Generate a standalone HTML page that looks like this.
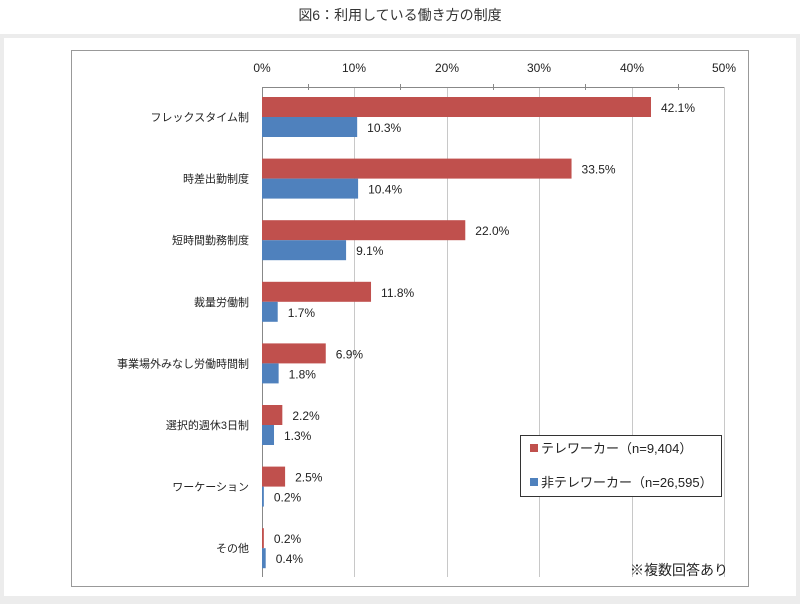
<!DOCTYPE html>
<html><head><meta charset="utf-8"><style>
body{margin:0;width:800px;height:604px;background:#fff;font-family:"Liberation Sans","Noto Sans CJK JP",sans-serif;position:relative;overflow:hidden}
.bg{position:absolute;left:0;top:34px;width:800px;height:570px;background:#ececec}
.panel{position:absolute;left:4px;top:38px;width:792px;height:558px;background:#fff}
.title{position:absolute;left:0;width:800px;top:5px;text-align:center;font-size:14px;color:#333}
</style></head><body>
<div class="title">図6：利用している働き方の制度</div>
<div class="bg"></div><div class="panel"></div>
<svg style="position:absolute;left:0;top:0" width="800" height="604" font-family="Liberation Sans, Noto Sans CJK JP, sans-serif">
<rect x="71.5" y="50.5" width="677" height="536" fill="#fff" stroke="#999"/>
<g stroke="#c8c8c8" stroke-width="1">
<line x1="354.5" y1="87" x2="354.5" y2="577"/><line x1="447.5" y1="87" x2="447.5" y2="577"/>
<line x1="539.5" y1="87" x2="539.5" y2="577"/><line x1="632.5" y1="87" x2="632.5" y2="577"/>
<line x1="724.5" y1="87" x2="724.5" y2="577"/>
</g>
<g stroke="#888"><line x1="262.5" y1="87" x2="262.5" y2="577"/><line x1="262" y1="87.5" x2="724" y2="87.5"/>
<line x1="308.5" y1="84" x2="308.5" y2="90"/><line x1="400.5" y1="84" x2="400.5" y2="90"/><line x1="493.5" y1="84" x2="493.5" y2="90"/><line x1="585.5" y1="84" x2="585.5" y2="90"/><line x1="678.5" y1="84" x2="678.5" y2="90"/></g>
<g font-size="12" fill="#222" text-anchor="middle">
<text x="262" y="72">0%</text><text x="354" y="72">10%</text><text x="447" y="72">20%</text><text x="539" y="72">30%</text><text x="632" y="72">40%</text><text x="724" y="72">50%</text>
</g>
<g id="bars"></g>
<rect x="520.5" y="435.5" width="201" height="61" fill="#fff" stroke="#333"/>
<rect x="530" y="444" width="8" height="8" fill="#c0504d"/><text x="541" y="453" font-size="13" fill="#222">テレワーカー（n=9,404）</text>
<rect x="530" y="478" width="8" height="8" fill="#4f81bd"/><text x="541" y="487" font-size="13" fill="#222">非テレワーカー（n=26,595）</text>
<text x="630" y="575" font-size="14" fill="#222">※複数回答あり</text>
</svg>
<script>
var d=[["フレックスタイム制",42.1,10.3],["時差出勤制度",33.5,10.4],["短時間勤務制度",22.0,9.1],["裁量労働制",11.8,1.7],["事業場外みなし労働時間制",6.9,1.8],["選択的週休3日制",2.2,1.3],["ワーケーション",2.5,0.2],["その他",0.2,0.4]];
var s="";d.forEach(function(r,i){var y=97+i*61.6,k=9.24;
s+='<rect x="262" y="'+y+'" width="'+r[1]*k+'" height="20" fill="#c0504d"/>';
s+='<rect x="262" y="'+(y+20)+'" width="'+r[2]*k+'" height="20" fill="#4f81bd"/>';
s+='<text x="'+(262+r[1]*k+10)+'" y="'+(y+15)+'" font-size="12" fill="#222">'+r[1].toFixed(1)+'%</text>';
s+='<text x="'+(262+r[2]*k+10)+'" y="'+(y+35)+'" font-size="12" fill="#222">'+r[2].toFixed(1)+'%</text>';
s+='<text x="249" y="'+(y+24)+'" font-size="11" fill="#222" text-anchor="end">'+r[0]+'</text>';});
document.getElementById("bars").innerHTML=s;
</script>
</body></html>
